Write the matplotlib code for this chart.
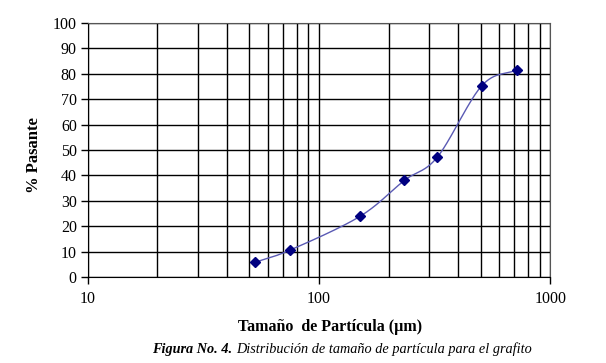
import numpy as np
import matplotlib
matplotlib.use('Agg')
import matplotlib.pyplot as plt
from matplotlib.ticker import LogLocator, NullFormatter, FixedLocator

plt.rcParams['font.family'] = 'Liberation Serif'

tamano = [53, 75, 150, 234, 325, 505, 715]
pasante = [5.8, 10.6, 23.8, 38.0, 47.2, 75.2, 81.5]


def smooth(xs, ys, n=40):
    # catmull-rom through the points, in log-x space (like an Excel smoothed line)
    px = np.log10(xs)
    py = np.array(ys, dtype=float)
    px = np.concatenate([[2 * px[0] - px[1]], px, [2 * px[-1] - px[-2]]])
    py = np.concatenate([[2 * py[0] - py[1]], py, [2 * py[-1] - py[-2]]])
    t = np.linspace(0, 1, n)
    outx, outy = [], []
    for i in range(1, len(px) - 2):
        for arr, out in ((px, outx), (py, outy)):
            p0, p1, p2, p3 = arr[i - 1], arr[i], arr[i + 1], arr[i + 2]
            out.extend(0.5 * ((2 * p1) + (-p0 + p2) * t
                              + (2 * p0 - 5 * p1 + 4 * p2 - p3) * t ** 2
                              + (-p0 + 3 * p1 - 3 * p2 + p3) * t ** 3))
    return 10 ** np.array(outx), np.array(outy)


fig = plt.figure(figsize=(6.06, 3.63), dpi=100)
ax = fig.add_axes([0.145, 0.237, 0.763, 0.700])

sx, sy = smooth(tamano, pasante)
ax.plot(sx, sy, color='#5a5ab4', lw=1.0, zorder=3)
ax.plot(tamano, pasante, ls='none', marker='D', ms=5.5, color='#000080', zorder=4)

ax.set_xscale('log')
ax.set_xlim(10, 1000)
ax.set_ylim(0, 100)
ax.set_yticks(range(0, 101, 10))
ax.xaxis.set_major_locator(FixedLocator([10, 100, 1000]))
ax.xaxis.set_minor_locator(LogLocator(base=10, subs=np.arange(2, 10)))
ax.xaxis.set_minor_formatter(NullFormatter())
ax.set_xticklabels(['10', '100', '1000'])

ax.grid(True, which='both', axis='x', color='black', lw=1.0)
ax.grid(True, which='major', axis='y', color='black', lw=1.0)
ax.set_axisbelow(True)

ax.tick_params(axis='both', which='major', direction='out', length=5, width=1,
               labelsize=11.5, pad=3)
ax.tick_params(axis='x', which='minor', length=0)
ax.tick_params(axis='x', which='major', pad=5)
for s in ['top', 'right']:
    ax.spines[s].set_color('#555555')
for s in ['left', 'bottom']:
    ax.spines[s].set_color('black')

ax.set_ylabel('% Pasante', fontsize=12, fontweight='bold')
ax.yaxis.set_label_coords(-0.10, 0.48)
ax.set_xlabel('Tamaño  de Partícula (µm)', fontsize=11.5, fontweight='bold')
ax.xaxis.set_label_coords(0.524, -0.165)

fig.text(0.251, 0.038, 'Figura No. 4.', fontsize=10.3, style='italic', fontweight='bold',
         ha='left', va='center')
fig.text(0.39, 0.038, 'Distribución de tamaño de partícula para el grafito', fontsize=10.3,
         style='italic', ha='left', va='center')

fig.savefig('out.png', dpi=100)
